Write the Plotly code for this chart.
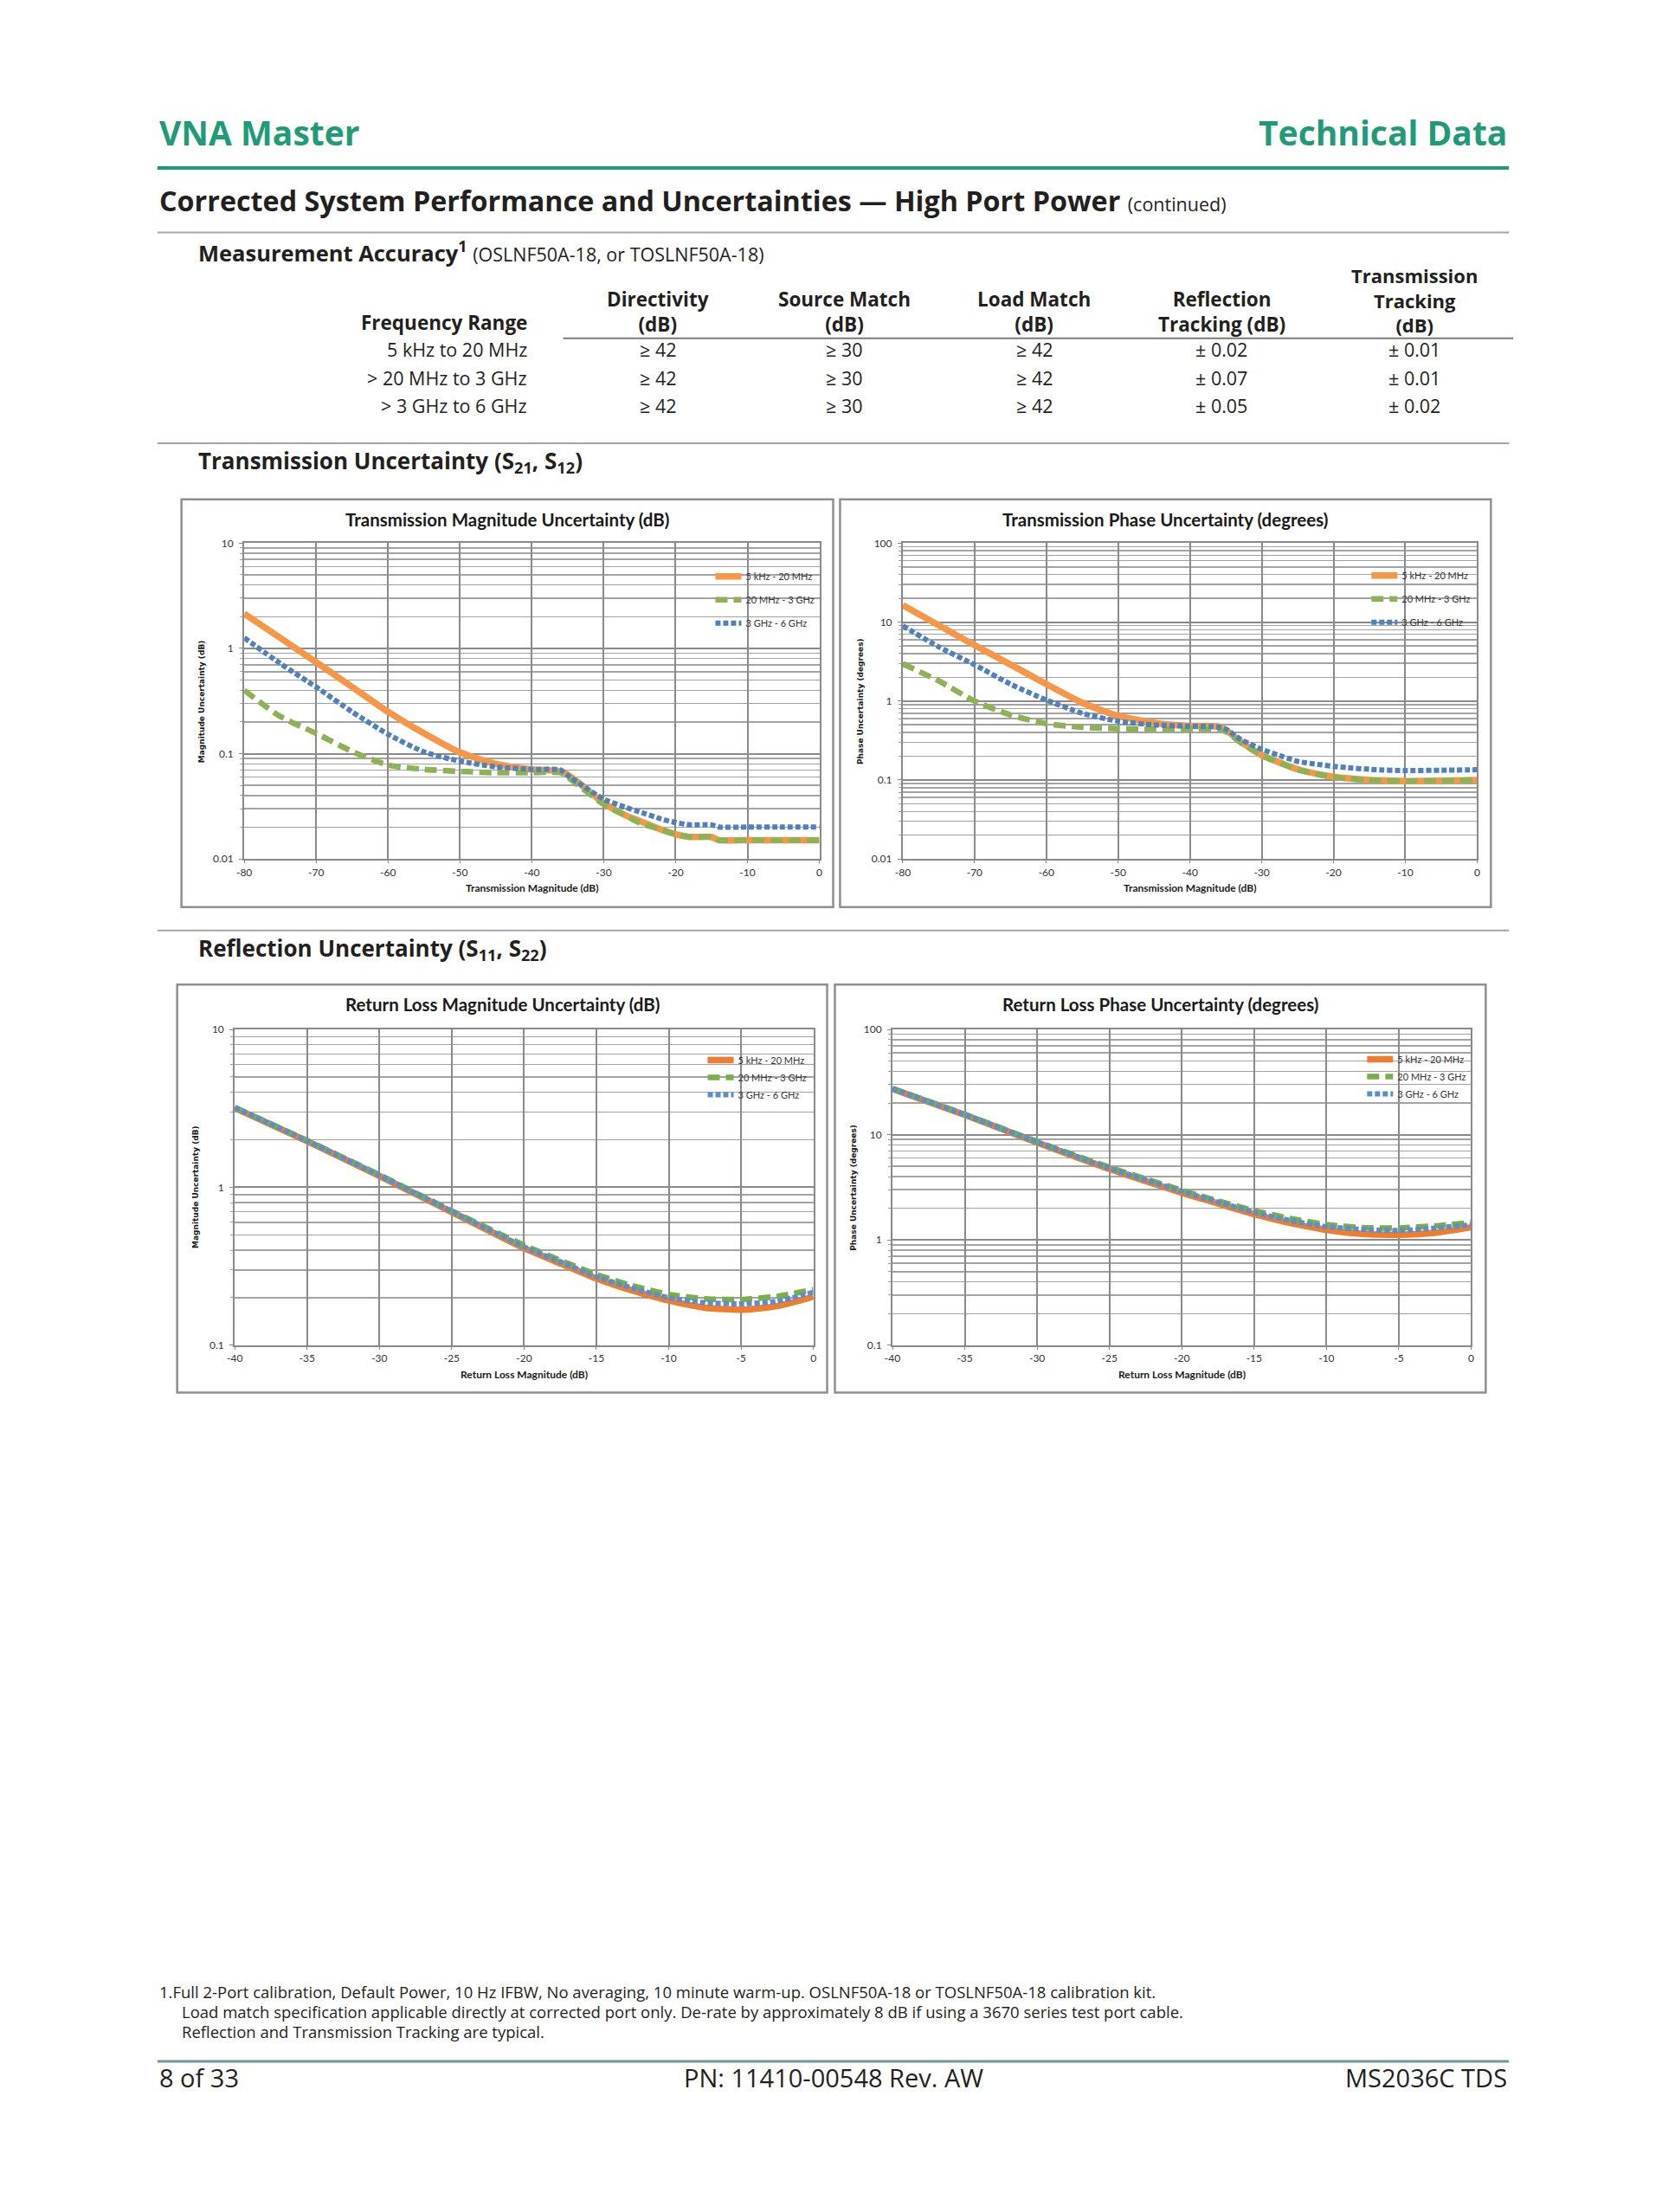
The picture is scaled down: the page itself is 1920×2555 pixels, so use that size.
import math
import plotly.graph_objects as go

W, H = 1920, 2555

# ---------------- data ----------------
series_names = ["5 kHz - 20 MHz", "20 MHz - 3 GHz", "3 GHz - 6 GHz"]

tx_db = [-80, -75, -70, -65, -60, -55, -50, -45, -40, -36, -35, -33, -30, -27, -25, -22, -20, -18, -15, -14, -10, -5, 0]
tmag_5k = [2.14, 1.26, 0.74, 0.43, 0.25, 0.156, 0.103, 0.080, 0.071, 0.068, 0.063, 0.050, 0.034, 0.026, 0.023, 0.019, 0.0172, 0.0162, 0.0162, 0.0151, 0.0151, 0.0151, 0.0151]
tmag_20m = [0.40, 0.226, 0.156, 0.105, 0.078, 0.071, 0.068, 0.066, 0.066, 0.066, 0.060, 0.047, 0.033, 0.026, 0.022, 0.019, 0.0172, 0.0162, 0.0162, 0.0151, 0.0151, 0.0151, 0.0151]
tmag_3g = [1.26, 0.72, 0.43, 0.25, 0.153, 0.104, 0.085, 0.075, 0.071, 0.070, 0.062, 0.050, 0.037, 0.031, 0.028, 0.024, 0.0222, 0.0211, 0.0211, 0.0201, 0.0201, 0.0201, 0.0201]

tph_5k = [16.4, 9.1, 5.1, 2.9, 1.64, 0.95, 0.65, 0.53, 0.485, 0.475, 0.43, 0.31, 0.206, 0.16, 0.137, 0.118, 0.110, 0.105, 0.100, 0.099, 0.097, 0.098, 0.100]
tph_20m = [2.96, 1.8, 1.0, 0.667, 0.518, 0.465, 0.447, 0.442, 0.440, 0.440, 0.41, 0.30, 0.206, 0.158, 0.135, 0.117, 0.110, 0.104, 0.100, 0.099, 0.097, 0.098, 0.100]
tph_3g = [8.97, 4.86, 2.88, 1.64, 1.03, 0.70, 0.556, 0.50, 0.48, 0.47, 0.44, 0.33, 0.245, 0.197, 0.172, 0.157, 0.149, 0.143, 0.137, 0.135, 0.132, 0.133, 0.135]

rl_db = [-40, -35, -30, -25, -20, -17.5, -15, -12.5, -10, -7.5, -5, -2.5, 0]
rmag_5k = [3.18, 1.96, 1.18, 0.697, 0.412, 0.330, 0.265, 0.222, 0.192, 0.173, 0.168, 0.177, 0.203]
rmag_20m = [3.20, 1.98, 1.20, 0.710, 0.430, 0.345, 0.281, 0.238, 0.210, 0.197, 0.195, 0.204, 0.225]
rmag_3g = [3.20, 1.97, 1.19, 0.705, 0.420, 0.338, 0.272, 0.230, 0.200, 0.186, 0.183, 0.190, 0.217]

rph_5k = [27.2, 15.4, 8.43, 4.72, 2.81, 2.22, 1.76, 1.45, 1.25, 1.14, 1.12, 1.17, 1.32]
rph_20m = [27.5, 15.6, 8.6, 4.9, 2.97, 2.35, 1.90, 1.60, 1.40, 1.31, 1.30, 1.36, 1.46]
rph_3g = [27.3, 15.5, 8.5, 4.8, 2.90, 2.30, 1.83, 1.53, 1.34, 1.26, 1.23, 1.30, 1.39]

tx_ticks = [-80, -70, -60, -50, -40, -30, -20, -10, 0]
rl_ticks = [-40, -35, -30, -25, -20, -15, -10, -5, 0]
mag_ticks_t = [0.01, 0.1, 1, 10]
phase_ticks_t = [0.01, 0.1, 1, 10, 100]
mag_ticks_r = [0.1, 1, 10]
phase_ticks_r = [0.1, 1, 10, 100]

table_rows = ["5 kHz to 20 MHz", "> 20 MHz to 3 GHz", "> 3 GHz to 6 GHz"]
directivity = ["≥ 42", "≥ 42", "≥ 42"]
source_match = ["≥ 30", "≥ 30", "≥ 30"]
load_match = ["≥ 42", "≥ 42", "≥ 42"]
refl_tracking = ["± 0.02", "± 0.07", "± 0.05"]
trans_tracking = ["± 0.01", "± 0.01", "± 0.02"]

# ---------------- helpers ----------------
def PX(x):
    return x / W

def PY(y):
    return 1 - y / H

PAGE_FONT = "Open Sans"
CHART_FONT = "Lato"
TXT = "#231f20"
GREEN = "#1f9b77"

annotations = []
shapes = []

def ann(text, x, y, size, color=TXT, xanchor="left", family=PAGE_FONT, textangle=0, yanchor="middle"):
    annotations.append(dict(text=text, x=PX(x), y=PY(y), xref="paper", yref="paper",
                            xanchor=xanchor, yanchor=yanchor, showarrow=False, textangle=textangle,
                            font=dict(size=size, color=color, family=family)))

def hline(x0, x1, y, color, width):
    shapes.append(dict(type="line", xref="paper", yref="paper", x0=PX(x0), x1=PX(x1),
                       y0=PY(y), y1=PY(y), line=dict(color=color, width=width)))

def box(x0, y0, x1, y1):
    shapes.append(dict(type="rect", xref="paper", yref="paper", x0=PX(x0), x1=PX(x1),
                       y0=PY(y1), y1=PY(y0), line=dict(color="#8f8f8f", width=2.5),
                       fillcolor="rgba(0,0,0,0)", layer="below"))

# ---------------- page text ----------------
ann("<b>VNA Master</b>", 174, 145, 39, color=GREEN)
ann("<b>Technical Data</b>", 1746, 145, 39, color=GREEN, xanchor="right")
hline(174, 1746, 187, GREEN, 4)
ann("<b>Corrected System Performance and Uncertainties — High Port Power</b> "
    "<span style='font-size:21.5px'>(continued)</span>", 174, 224, 32.3)
hline(174, 1746, 262, "#a6a6a6", 2)
ann("<b>Measurement Accuracy<sup>1</sup></b> <span style='font-size:21.5px'>(OSLNF50A-18, or TOSLNF50A-18)</span>",
    219, 284, 25.5)

# table
col_x = [756, 973, 1194, 1412, 1636]
hdr_size = 22.5
row_size = 21.5
ann("<b>Frequency Range</b>", 606, 367, hdr_size, xanchor="right")
ann("<b>Directivity</b><br><b>(dB)</b>", col_x[0], 354, hdr_size, xanchor="center")
ann("<b>Source Match</b><br><b>(dB)</b>", col_x[1], 354, hdr_size, xanchor="center")
ann("<b>Load Match</b><br><b>(dB)</b>", col_x[2], 354, hdr_size, xanchor="center")
ann("<b>Reflection</b><br><b>Tracking (dB)</b>", col_x[3], 354, hdr_size, xanchor="center")
ann("<b>Transmission</b><br><b>Tracking</b><br><b>(dB)</b>", col_x[4], 340, 22, xanchor="center")
hline(646, 1751, 385, "#7a7a7a", 2)
row_y = [398, 431, 463]
cols = [directivity, source_match, load_match, refl_tracking, trans_tracking]
for i, r in enumerate(table_rows):
    ann(r, 606, row_y[i], row_size, xanchor="right")
    for j, c in enumerate(cols):
        ann(c[i], col_x[j], row_y[i], row_size, xanchor="center")
hline(174, 1746, 507, "#a6a6a6", 2)

ann("<b>Transmission Uncertainty (S<sub>21</sub>, S<sub>12</sub>)</b>", 219, 528, 26)
hline(174, 1746, 1073, "#a6a6a6", 2)
ann("<b>Reflection Uncertainty (S<sub>11</sub>, S<sub>22</sub>)</b>", 219, 1094, 26)

# footnote
fn_size = 18.5
ann("1.Full 2-Port calibration, Default Power, 10 Hz IFBW, No averaging, 10 minute warm-up. OSLNF50A-18 or TOSLNF50A-18 calibration kit.",
    174, 2306, fn_size)
ann("Load match specification applicable directly at corrected port only. De-rate by approximately 8 dB if using a 3670 series test port cable.",
    200, 2329, fn_size)
ann("Reflection and Transmission Tracking are typical.", 200, 2352, fn_size)
hline(174, 1746, 2387, "#729797", 3)
ann("8 of 33", 174, 2406, 29)
ann("PN: 11410-00548 Rev. AW", 960, 2406, 29, xanchor="center")
ann("MS2036C TDS", 1746, 2406, 29, xanchor="right")

# ---------------- charts ----------------
charts = [
    dict(box=(202, 572, 960, 1046), plot=(275, 623, 944, 990),
         title="Transmission Magnitude Uncertainty (dB)", xtitle="Transmission Magnitude (dB)",
         ytitle="Magnitude Uncertainty (dB)", ytx=225, x=tx_db, ys=[tmag_5k, tmag_20m, tmag_3g],
         xticks=tx_ticks, yticks=mag_ticks_t, legend=(818, 647), gap=8, pal=0),
    dict(box=(968, 572, 1725, 1046), plot=(1041, 623, 1709, 990),
         title="Transmission Phase Uncertainty (degrees)", xtitle="Transmission Magnitude (dB)",
         ytitle="Phase Uncertainty (degrees)", ytx=991, x=tx_db, ys=[tph_5k, tph_20m, tph_3g],
         xticks=tx_ticks, yticks=phase_ticks_t, legend=(1581, 646), gap=8, pal=0),
    dict(box=(197, 1136, 953, 1610), plot=(264, 1188, 937, 1555),
         title="Return Loss Magnitude Uncertainty (dB)", xtitle="Return Loss Magnitude (dB)",
         ytitle="Magnitude Uncertainty (dB)", ytx=219, x=rl_db, ys=[rmag_5k, rmag_20m, rmag_3g],
         xticks=rl_ticks, yticks=mag_ticks_r, legend=(809, 1209), gap=1, pal=1),
    dict(box=(962, 1136, 1719, 1610), plot=(1029, 1188, 1702, 1555),
         title="Return Loss Phase Uncertainty (degrees)", xtitle="Return Loss Magnitude (dB)",
         ytitle="Phase Uncertainty (degrees)", ytx=984, x=rl_db, ys=[rph_5k, rph_20m, rph_3g],
         xticks=rl_ticks, yticks=phase_ticks_r, legend=(1576, 1208), gap=1, pal=1),
]

palettes = [
    ["#F79646", "#8DB255", "#4F81BD"],
    ["#ED7D31", "#7AAE4A", "#5A8ED0"],
]
styles = [dict(width=7.5, dash="solid"), dict(width=6.5, dash="14px,7px"), dict(width=6, dash="6px,3px")]

fig = go.Figure()
layout = dict(width=W, height=H, margin=dict(l=0, r=0, t=0, b=0),
              paper_bgcolor="white", plot_bgcolor="white", showlegend=True)

for ci, c in enumerate(charts):
    n = "" if ci == 0 else str(ci + 1)
    xa, ya = "x" + n, "y" + n
    lg = "legend" + n
    bx0, by0, bx1, by1 = c["box"]
    px0, py0, px1, py1 = c["plot"]
    box(bx0, by0, bx1, by1)
    ann("<b>" + c["title"] + "</b>", (bx0 + bx1) / 2, by0 + 23, 20.5, color="#1a1a1a",
        xanchor="center", family=CHART_FONT)
    ann("<b>" + c["xtitle"] + "</b>", (px0 + px1) / 2, py1 + 34, 12, color="#1a1a1a",
        xanchor="center", family=CHART_FONT)
    ann("<b>" + c["ytitle"] + "</b>", c["ytx"], (py0 + py1) / 2, 9, color="#1a1a1a",
        xanchor="center", family="DejaVu Sans", textangle=-90)
    pal = palettes[c["pal"]]
    for k in range(3):
        fig.add_trace(go.Scatter(
            x=c["x"], y=c["ys"][k], mode="lines", name=series_names[k],
            xaxis=xa, yaxis=ya, legend=lg, legendgroup=str(k),
            line=dict(color=pal[k], width=styles[k]["width"], dash=styles[k]["dash"],
                      shape="spline", smoothing=0.6),
            hoverinfo="skip"))
    yt = c["yticks"]
    minor_vals = [m * d for d in yt[:-1] for m in range(2, 10)]
    xaxis = dict(domain=[PX(px0), PX(px1)], anchor=ya, range=[c["x"][0], c["x"][-1]],
                 tickvals=c["xticks"], ticktext=[str(v) for v in c["xticks"]],
                 showgrid=True, gridcolor="#8a8a8a", gridwidth=2,
                 showline=True, linecolor="#8a8a8a", linewidth=2, mirror=True,
                 ticks="outside", ticklen=3, tickcolor="#8a8a8a", zeroline=False,
                 tickfont=dict(size=12, family=CHART_FONT, color="#333333"),
                 ticklabelstandoff=0, fixedrange=True)
    yaxis = dict(domain=[PY(py1), PY(py0)], anchor=xa, type="log",
                 range=[math.log10(yt[0]), math.log10(yt[-1])],
                 tickvals=yt, ticktext=["%g" % v for v in yt],
                 showgrid=True, gridcolor="#8a8a8a", gridwidth=2,
                 minor=dict(tickvals=minor_vals, showgrid=True, gridcolor="#a3a3a3", gridwidth=1.5,
                            ticks="outside", ticklen=3, tickcolor="#a3a3a3"),
                 showline=True, linecolor="#8a8a8a", linewidth=2, mirror=True,
                 ticks="outside", ticklen=4, tickcolor="#8a8a8a", zeroline=False,
                 tickfont=dict(size=12, family=CHART_FONT, color="#333333"),
                 ticklabelstandoff=4, fixedrange=True)
    layout["xaxis" + n] = xaxis
    layout["yaxis" + n] = yaxis
    lx, ly = c["legend"]
    layout[lg] = dict(x=PX(lx), y=PY(ly), xanchor="left", yanchor="top",
                      bgcolor="rgba(0,0,0,0)", borderwidth=0,
                      font=dict(size=11, family=CHART_FONT, color="#333333"),
                      traceorder="grouped", tracegroupgap=c["gap"], itemclick=False,
                      itemdoubleclick=False)

layout["annotations"] = annotations
layout["shapes"] = shapes
fig.update_layout(**layout)

fig.write_html("out.html", config={"displayModeBar": False, "staticPlot": True},
               post_script="document.body.style.margin='0';document.documentElement.style.overflow='hidden';")
